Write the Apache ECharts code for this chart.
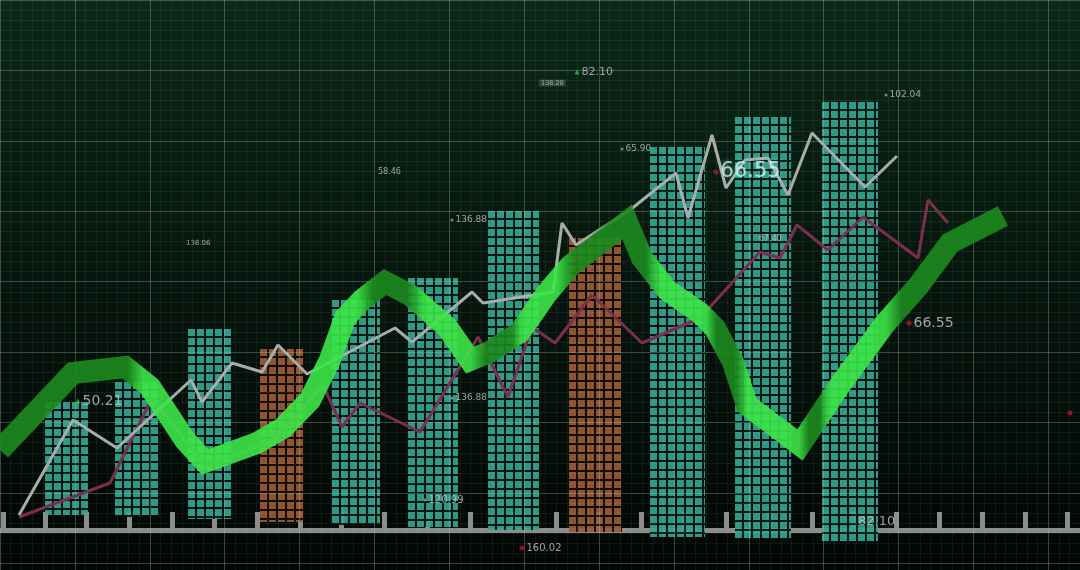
<!DOCTYPE html>
<html><head><meta charset="utf-8">
<script src="https://cdn.jsdelivr.net/npm/echarts@6/dist/echarts.min.js"></script>
<style>html,body{margin:0;padding:0;background:#030806;}#c{width:1080px;height:570px;}</style>
</head><body><div id="c"></div>
<script>
// ---------- data (x = time position, y = level above baseline) ----------
const barFrom = [45,115,188,260,332,408,488,569,650,735,822];
const barTo   = [88,160,233,305,380,458,539,622,705,791,878];
const barLow  = [15,13,11,8,5,3,0,-2,-7,-9,-12];
const barHigh = [128,148,201,181,230,252,319,292,383,413,428];
const barKind = [0,0,0,1,0,0,0,1,0,0,0]; // 0 = up (teal), 1 = down (orange)

const greenX = [0,73,125,150,185,205,257,283,310,330,345,362,385,410,447,470,490,520,547,570,627,642,667,700,715,733,747,800,840,884,919,950,1003];
const greenY = [80,157,163,143,90,68,87,102,130,170,212,230,248,235,203,170,178,198,237,264,308,272,240,217,202,168,125,85,145,205,245,287,314];

const grayX = [19,73,117,191,202,232,262,278,307,395,412,472,483,553,562,576,630,676,688,712,726,745,768,788,812,865,897];
const grayY = [15,110,82,150,128,167,158,185,156,202,188,238,227,238,307,285,320,357,312,395,342,370,372,335,397,343,374];

const maroonX = [19,110,152,205,275,323,342,360,420,478,508,532,555,592,642,700,760,780,797,828,863,918,928,948];
const maroonY = [13,47,132,64,90,145,103,127,98,193,133,203,187,235,187,212,278,272,305,280,313,272,330,307];

const tickX = [3,45,86,129,172,214,257,300,341,384,427,470,513,556,598,641,684,726,769,812,853,896,939,982,1025,1067];

const labelX = [184,376,452,537,577,622,716,886,757,909,78,452,425,522,856,510,1070];
const labelY = [287,358,310,447,458,381,358,435,291,207,129,132,30,-18,8,233,117];
const labelText = ['136.06','58.46','136.88','138.20','82.10','65.90','66.55','102.04','67.40','66.55','50.21','136.88','120.99','160.02','82.10','80.97',''];

// ---------- styles ----------
const labelFont = [7,8,9,6.5,11,9,21,9,8,14,14,9,10,10,13,6,0];
const markerKind = ['none','none','dot','none','tri','dot','red','dot','none','red','tri','dot','dot','red','none','none','red'];

function makePattern(cell, bg) {
  const c = document.createElement('canvas');
  c.width = 9; c.height = 9;
  const g = c.getContext('2d');
  g.fillStyle = bg; g.fillRect(0,0,9,9);
  g.fillStyle = cell; g.fillRect(0,0,7,7);
  return c;
}
const tealCanvas = makePattern('#31a592', '#051210');
const orangeCanvas = makePattern('#9c5b33', '#120a05');

const barData = barFrom.map((v,i)=>[v, barTo[i], barLow[i], barHigh[i], barKind[i]]);
const pair = (xs, ys) => xs.map((v,i)=>[v, ys[i]]);

function barRender(params, api) {
  const x0 = api.value(0), x1 = api.value(1), lo = api.value(2), hi = api.value(3), k = api.value(4);
  const tl = api.coord([x0, hi]);
  const br = api.coord([x1, lo]);
  return {
    type: 'rect',
    shape: {x: tl[0], y: tl[1], width: br[0]-tl[0], height: br[1]-tl[1]},
    style: {fill: {image: k === 1 ? orangeCanvas : tealCanvas, repeat: 'repeat', x: tl[0], y: tl[1]}, opacity: 0.92}
  };
}

const labelData = labelX.map((x,i)=>{
  const mk = markerKind[i];
  const big = labelFont[i] >= 20;
  return {
    value: [x, labelY[i]],
    symbol: mk === 'tri' ? 'triangle' : 'circle',
    symbolSize: mk === 'none' ? 0 : (mk === 'tri' ? 5 : (mk === 'red' ? 5 : 3)),
    itemStyle: {color: mk === 'tri' ? '#3fbf4a' : (mk === 'red' ? '#b3123a' : '#9aa39e')},
    label: {
      show: labelText[i] !== '',
      formatter: labelText[i],
      position: 'right',
      distance: 2,
      fontSize: labelFont[i],
      fontFamily: 'DejaVu Sans',
      letterSpacing: big ? 1 : 0,
      color: big ? '#d6f2ef' : '#bfc8c3',
      textShadowColor: big ? 'rgba(140,255,240,0.6)' : 'transparent',
      textShadowBlur: big ? 4 : 0,
      backgroundColor: labelText[i] === '138.20' ? 'rgba(190,200,195,0.25)' : 'transparent',
      padding: labelText[i] === '138.20' ? [0,2] : 0
    }
  };
});

const dark = '#1c8a1e', bright = '#3ce648';
const greenGrad = {type:'linear', x:0, y:0, x2:1, y2:0, colorStops:[
  {offset:0, color:dark},{offset:0.135, color:dark},
  {offset:0.15, color:bright},{offset:0.36, color:bright},
  {offset:0.375, color:dark},{offset:0.41, color:dark},
  {offset:0.425, color:bright},{offset:0.47, color:bright},
  {offset:0.485, color:dark},{offset:0.51, color:dark},
  {offset:0.52, color:bright},{offset:0.555, color:bright},
  {offset:0.57, color:dark},{offset:0.64, color:dark},
  {offset:0.655, color:bright},{offset:0.70, color:bright},
  {offset:0.71, color:dark},{offset:0.73, color:dark},
  {offset:0.74, color:bright},{offset:0.79, color:bright},
  {offset:0.80, color:dark},{offset:0.81, color:dark},
  {offset:0.82, color:bright},{offset:0.875, color:bright},
  {offset:0.89, color:dark},{offset:1, color:dark}
]};

const MAJ = 77.4;
const chart = echarts.init(document.getElementById('c'), null, {renderer:'canvas'});
chart.setOption({
  animation: false,
  backgroundColor: {type:'linear', x:0, y:0, x2:0, y2:1, colorStops:[
    {offset:0, color:'#0b2819'},{offset:0.5, color:'#06150d'},{offset:1, color:'#020604'}]},
  grid: [
    {left:0, right:0, top:0, bottom:0},
    {left:41-MAJ, right:0, top:21-MAJ, bottom:0}
  ],
  xAxis: [
    {type:'value', gridIndex:0, min:0, max:1080, z:1,
     axisLine:{show:true, onZero:true, lineStyle:{color:'#8c8c8c', width:5}},
     axisTick:{show:true, inside:true, length:18, customValues: tickX, lineStyle:{color:'#8c8c8c', width:5}},
     axisLabel:{show:false}, splitLine:{show:false}},
    {type:'value', gridIndex:1, min:0, max:(1080-41+MAJ)/MAJ, interval:1, z:3,
     axisLine:{show:false}, axisTick:{show:false}, axisLabel:{show:false},
     splitLine:{show:true, lineStyle:{color:'rgba(160,200,175,0.33)', width:1}},
     minorTick:{show:false, splitNumber:7},
     minorSplitLine:{show:true, lineStyle:{color:'rgba(130,180,150,0.10)', width:1}}}
  ],
  yAxis: [
    {type:'value', gridIndex:0, min:-40, max:530, show:false},
    {type:'value', gridIndex:1, inverse:true, min:0, max:(570-21+MAJ)/MAJ, interval:1, z:3,
     axisLine:{show:false}, axisTick:{show:false}, axisLabel:{show:false},
     splitLine:{show:true, lineStyle:{color:'rgba(160,200,175,0.33)', width:1}},
     minorTick:{show:false, splitNumber:7},
     minorSplitLine:{show:true, lineStyle:{color:'rgba(130,180,150,0.10)', width:1}}}
  ],
  series: [
    {type:'custom', xAxisIndex:0, yAxisIndex:0, z:2, renderItem: barRender, data: barData,
     encode:{x:[0,1], y:[2,3]}},
    {type:'line', xAxisIndex:0, yAxisIndex:0, z:4, data: pair(maroonX, maroonY), symbol:'none',
     lineStyle:{color:'#7d2e4c', width:3}},
    {type:'line', xAxisIndex:0, yAxisIndex:0, z:4, data: pair(grayX, grayY), symbol:'none',
     lineStyle:{color:'#a8ada9', width:3}},
    {type:'line', xAxisIndex:0, yAxisIndex:0, z:5, data: pair(greenX, greenY), symbol:'none',
     lineStyle:{color: greenGrad, width:22, opacity:0.9, join:'miter'}},
    {type:'scatter', xAxisIndex:0, yAxisIndex:0, z:6, data: labelData}
  ]
});
</script>
</body></html>
